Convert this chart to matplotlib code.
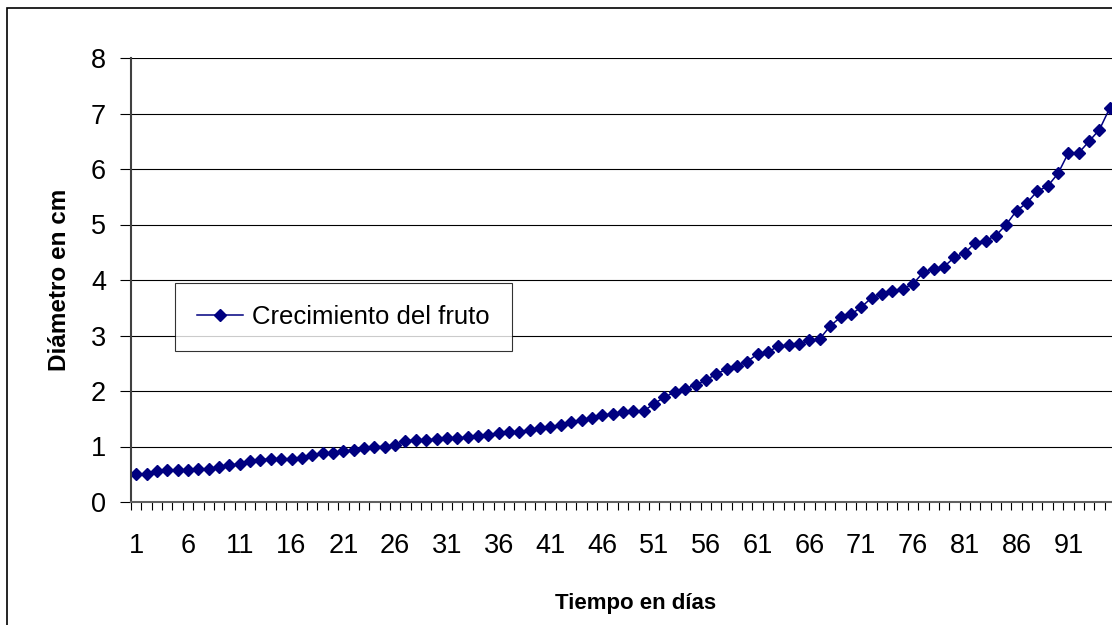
import numpy as np
import matplotlib
matplotlib.use('Agg')
from matplotlib import pyplot as plt
from matplotlib.patches import Rectangle

plt.rcParams['font.family'] = ['Liberation Sans', 'DejaVu Sans']

# dias 1..95 y diametro del fruto (cm)
dias = np.arange(1, 96)
diametro = [0.50, 0.50, 0.55, 0.57, 0.57, 0.57, 0.60, 0.60, 0.63, 0.66,
            0.69, 0.73, 0.76, 0.78, 0.78, 0.78, 0.80, 0.85, 0.88, 0.88,
            0.91, 0.94, 0.97, 1.00, 1.00, 1.03, 1.10, 1.12, 1.12, 1.13,
            1.15, 1.15, 1.17, 1.19, 1.21, 1.24, 1.26, 1.27, 1.30, 1.33,
            1.36, 1.39, 1.44, 1.47, 1.51, 1.56, 1.59, 1.62, 1.64, 1.64,
            1.77, 1.89, 1.98, 2.04, 2.11, 2.19, 2.31, 2.39, 2.45, 2.53,
            2.67, 2.70, 2.81, 2.82, 2.85, 2.91, 2.94, 3.17, 3.33, 3.38,
            3.51, 3.68, 3.74, 3.81, 3.84, 3.93, 4.14, 4.20, 4.24, 4.41,
            4.49, 4.67, 4.71, 4.80, 5.00, 5.25, 5.39, 5.60, 5.69, 5.92,
            6.29, 6.29, 6.50, 6.71, 7.10]
etiquetas_x = np.arange(1, 92, 5)

fig = plt.figure(figsize=(11.12, 6.25), dpi=100)
ax = fig.add_axes([131 / 1112, 123 / 625, 984 / 1112, 444 / 625])

# outer chart border (clipped at right/bottom like the original)
fig.patches.append(Rectangle((7 / 1112, -0.2), 1.2, 1.2 - 8 / 625,
                             transform=fig.transFigure, fill=False,
                             edgecolor='black', linewidth=1.2))

ax.plot(dias, diametro, '-D', color='#000080', markersize=6.5,
        linewidth=1.1, label='Crecimiento del fruto', clip_on=False)

ax.set_xlim(0.5, 95.5)
ax.set_ylim(0, 8)
ax.set_yticks(range(0, 9))
ax.yaxis.grid(True, color='black', linewidth=0.8)
ax.set_axisbelow(True)

ax.set_xticks(etiquetas_x)
ax.set_xticks(np.arange(0.5, 96, 1), minor=True)
ax.tick_params(axis='x', which='major', length=0, pad=22, labelsize=19.5)
ax.tick_params(axis='x', which='minor', length=6, width=0.8, color='black')
ax.tick_params(axis='y', length=8, width=0.8, pad=10, labelsize=19.5)

for s in ['top', 'right']:
    ax.spines[s].set_visible(False)
ax.spines['left'].set_color('#404040')
ax.spines['left'].set_linewidth(1.5)
ax.spines['bottom'].set_color('#606060')
ax.spines['bottom'].set_linewidth(1.5)

ax.set_xlabel('Tiempo en días', fontsize=16, fontweight='bold')
ax.set_ylabel('Diámetro en cm', fontsize=17.5, fontweight='bold')
ax.xaxis.set_label_coords(505 / 984, -91 / 444)
ax.yaxis.set_label_coords(-60 / 984, 0.5)

leg = ax.legend(loc='upper left', bbox_to_anchor=(44 / 984, 219 / 444),
                fontsize=18.5, frameon=True, fancybox=False, borderpad=0.85,
                handlelength=1.8, handletextpad=0.35, borderaxespad=0)
leg.get_frame().set_edgecolor('black')
leg.get_frame().set_linewidth(0.8)

fig.savefig('out.png', dpi=100)
